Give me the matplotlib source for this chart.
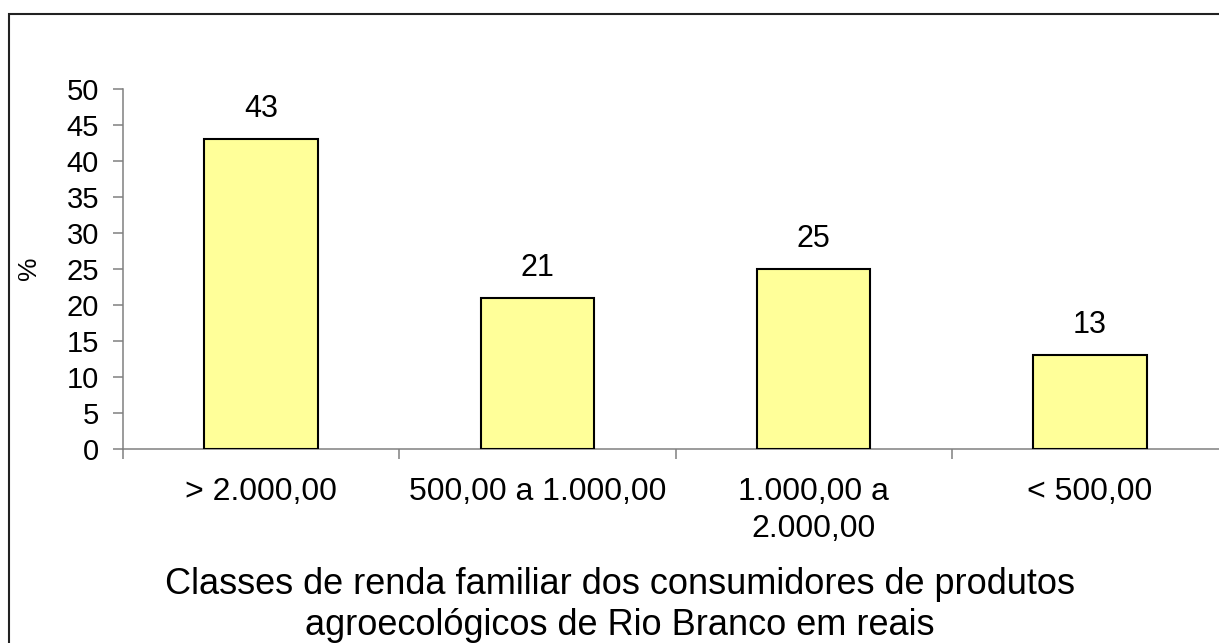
import matplotlib
matplotlib.use("Agg")
import matplotlib.pyplot as plt
from matplotlib.patches import Rectangle

plt.rcParams['font.family'] = ['Liberation Sans', 'DejaVu Sans']

categories = ["> 2.000,00", "500,00 a 1.000,00", "1.000,00 a\n2.000,00", "< 500,00"]
values = [43, 21, 25, 13]
y_ticks = [0, 5, 10, 15, 20, 25, 30, 35, 40, 45, 50]
x_label = "Classes de renda familiar dos consumidores de produtos\nagroecológicos de Rio Branco em reais"
y_label = "%"

W, H = 1219, 643
fig = plt.figure(figsize=(W / 100, H / 100), dpi=100)

ax_left, ax_right = 123, 1228
ax_top, ax_bottom = 89, 449
ax = fig.add_axes([ax_left / W, 1 - ax_bottom / H, (ax_right - ax_left) / W, (ax_bottom - ax_top) / H])

xs = list(range(len(categories)))
bars = ax.bar(xs, values, width=0.41, color="#FFFF99", edgecolor="black", linewidth=1.5, zorder=3)
for x, v in zip(xs, values):
    ax.annotate(str(v), (x, v), xytext=(0, 15.8), textcoords="offset points",
                ha="center", va="baseline", fontsize=22)

ax.set_xlim(-0.5, len(categories) - 0.5)
ax.set_ylim(0, 50)
ax.set_yticks(y_ticks)
ax.set_yticklabels([str(t) for t in y_ticks], fontsize=21)
ax.set_xticks([i - 0.5 for i in range(len(categories) + 1)])
ax.set_xticklabels([""] * (len(categories) + 1))
ax.set_xticks(xs, minor=True)
ax.set_xticklabels(categories, minor=True, fontsize=23, linespacing=1.3)
ax.tick_params(axis="x", which="minor", length=0, pad=20)
ax.tick_params(axis="x", which="major", direction="out", length=7.2, width=1.1, color="#808080")
ax.tick_params(axis="y", direction="out", length=7.2, width=1.1, color="#808080", pad=10)

for s in ["top", "right"]:
    ax.spines[s].set_visible(False)
for s in ["left", "bottom"]:
    ax.spines[s].set_color("#808080")
    ax.spines[s].set_linewidth(1.1)

fig.text(620 / W, 1 - 605 / H, x_label, ha="center", va="center", fontsize=26, linespacing=1.2)
fig.text(29 / W, 1 - 268 / H, y_label, ha="center", va="center", rotation=90, fontsize=19)

fig.patches.append(Rectangle((8.5 / W, -0.1), 1.2, (1 - 14 / H) + 0.1, transform=fig.transFigure,
                             fill=False, edgecolor="#222222", linewidth=1.5, clip_on=False))

fig.savefig("out.png", dpi=100)
